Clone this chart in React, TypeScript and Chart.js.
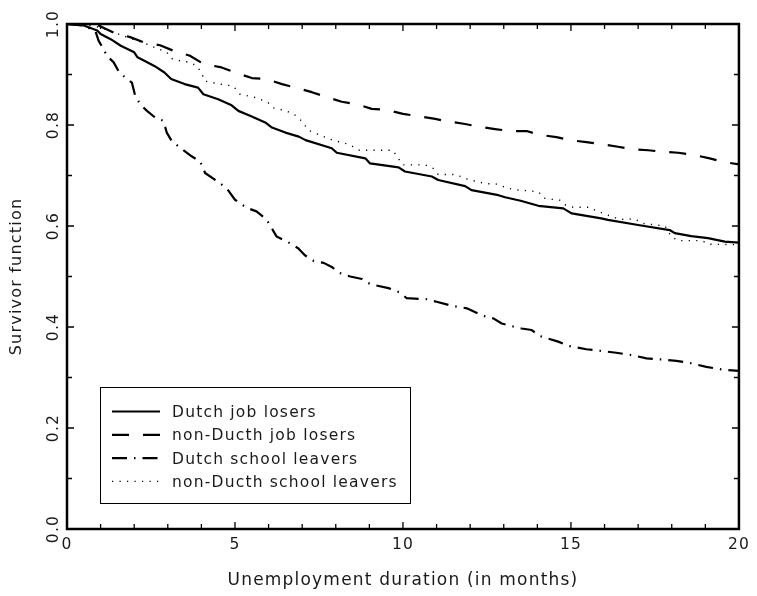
import React, { useEffect, useRef } from 'react';
import { Chart, registerables } from 'chart.js';

Chart.register(...registerables);

const FONT = '"DejaVu Sans", sans-serif';
const INK = '#1a1a1a';

// ---- axes ----
const xRange = [0, 20];
const yRange = [0, 1];
const xTicks = [0, 5, 10, 15, 20];
const yTicks = [0, 0.2, 0.4, 0.6, 0.8, 1.0];
const xMinorTicks = [0, 1, 2, 3, 4, 5, 6, 7, 8, 9, 10, 11, 12, 13, 14, 15, 16, 17, 18, 19, 20];
const yMinorTicks = [0, 0.1, 0.2, 0.3, 0.4, 0.5, 0.6, 0.7, 0.8, 0.9, 1.0];
const xTitle = 'Unemployment duration (in months)';
const yTitle = 'Survivor function';

// ---- series ----
const seriesNames = [
  'Dutch job losers',
  'non-Ducth job losers',
  'Dutch school leavers',
  'non-Ducth school leavers',
];

const dutchJobMonths = [0, 0.5, 0.9, 1.0, 1.3, 1.6, 2.0, 2.1, 2.6, 2.9, 3.1, 3.5, 3.9, 4.06, 4.5, 4.9, 5.1, 5.5, 5.9, 6.1, 6.5, 6.9, 7.1, 7.88, 8.03, 8.88, 9.02, 9.87, 10.06, 10.86, 11.05, 11.85, 12.04, 12.84, 13.04, 13.5, 14.03, 14.77, 15.02, 15.9, 16.1, 17.0, 17.94, 18.09, 18.58, 19.08, 19.58, 20];
const dutchJobSurv = [1.0, 0.997, 0.987, 0.98, 0.97, 0.957, 0.944, 0.934, 0.917, 0.904, 0.891, 0.881, 0.874, 0.861, 0.851, 0.839, 0.828, 0.817, 0.805, 0.795, 0.785, 0.777, 0.770, 0.754, 0.745, 0.734, 0.724, 0.716, 0.708, 0.698, 0.691, 0.679, 0.671, 0.661, 0.657, 0.650, 0.640, 0.635, 0.625, 0.615, 0.612, 0.602, 0.592, 0.586, 0.580, 0.576, 0.569, 0.567];

const foreignJobMonths = [0, 0.5, 0.94, 1.39, 1.88, 2.28, 2.77, 3.17, 3.66, 4.06, 4.6, 5.0, 5.5, 5.94, 6.4, 6.8, 7.29, 7.69, 8.18, 8.63, 9.07, 9.52, 10.0, 10.41, 10.96, 11.35, 11.85, 12.24, 12.74, 13.19, 13.68, 14.03, 14.57, 14.97, 15.46, 15.9, 16.4, 16.8, 17.3, 17.74, 18.19, 18.63, 19.13, 19.52, 20];
const foreignJobSurv = [1.0, 0.999, 0.997, 0.983, 0.974, 0.964, 0.958, 0.947, 0.937, 0.921, 0.914, 0.904, 0.893, 0.891, 0.881, 0.874, 0.865, 0.856, 0.846, 0.841, 0.832, 0.830, 0.822, 0.818, 0.812, 0.807, 0.802, 0.797, 0.792, 0.788, 0.788, 0.781, 0.776, 0.770, 0.766, 0.762, 0.757, 0.752, 0.750, 0.747, 0.745, 0.741, 0.734, 0.727, 0.722];

const dutchSchoolMonths = [0, 0.5, 0.85, 0.94, 1.09, 1.19, 1.39, 1.53, 1.73, 1.93, 2.03, 2.18, 2.38, 2.62, 2.87, 2.97, 3.12, 3.37, 3.71, 3.96, 4.11, 4.46, 4.75, 5.0, 5.35, 5.64, 5.94, 6.24, 6.58, 6.88, 7.08, 7.34, 7.64, 7.88, 8.08, 8.43, 8.78, 9.02, 9.57, 9.92, 10.11, 10.71, 11.0, 11.45, 11.9, 12.39, 12.69, 12.94, 13.28, 13.53, 13.83, 14.08, 14.62, 14.97, 15.46, 15.86, 16.35, 16.75, 17.25, 17.64, 18.14, 18.53, 19.03, 19.47, 20];
const dutchSchoolSurv = [1.0, 0.997, 0.985, 0.967, 0.950, 0.937, 0.924, 0.907, 0.894, 0.884, 0.858, 0.841, 0.828, 0.815, 0.808, 0.785, 0.768, 0.755, 0.738, 0.728, 0.705, 0.689, 0.675, 0.652, 0.636, 0.629, 0.613, 0.579, 0.568, 0.556, 0.542, 0.531, 0.527, 0.519, 0.508, 0.500, 0.495, 0.485, 0.477, 0.468, 0.457, 0.455, 0.450, 0.442, 0.437, 0.422, 0.417, 0.407, 0.401, 0.397, 0.394, 0.382, 0.371, 0.362, 0.356, 0.353, 0.349, 0.345, 0.338, 0.336, 0.333, 0.329, 0.321, 0.316, 0.313];

const foreignSchoolMonths = [0, 0.5, 1.0, 1.78, 2.3, 2.97, 3.1, 3.37, 3.66, 3.86, 4.0, 4.1, 4.55, 4.95, 5.15, 5.64, 5.99, 6.14, 6.53, 6.83, 6.98, 7.2, 7.9, 8.38, 8.7, 9.7, 9.87, 10.0, 10.67, 10.9, 11.05, 11.56, 11.95, 12.45, 12.8, 13.1, 13.33, 14.03, 14.2, 14.67, 14.82, 15.07, 15.56, 15.76, 16.45, 16.9, 17.15, 17.8, 17.99, 18.2, 18.9, 19.1, 20];
const foreignSchoolSurv = [1.0, 0.999, 0.993, 0.974, 0.962, 0.944, 0.932, 0.927, 0.924, 0.917, 0.904, 0.887, 0.881, 0.877, 0.861, 0.854, 0.844, 0.834, 0.828, 0.818, 0.808, 0.789, 0.770, 0.762, 0.750, 0.750, 0.733, 0.721, 0.721, 0.714, 0.702, 0.702, 0.692, 0.684, 0.683, 0.675, 0.672, 0.668, 0.655, 0.651, 0.642, 0.637, 0.637, 0.630, 0.613, 0.614, 0.605, 0.600, 0.579, 0.571, 0.571, 0.564, 0.563];

const seriesMonths = [dutchJobMonths, foreignJobMonths, dutchSchoolMonths, foreignSchoolMonths];
const seriesSurv = [dutchJobSurv, foreignJobSurv, dutchSchoolSurv, foreignSchoolSurv];
const seriesDash = [[], [17, 14], [15, 7, 1.5, 7], [1.2, 6.3]];
const seriesWidth = [2.2, 2.2, 2.2, 1.4];

const SPACING = '1.2px';

const framePlugin = {
  id: 'frameAndLegend',
  beforeUpdate(chart: any) {
    chart.ctx.letterSpacing = SPACING;
  },
  beforeDraw(chart: any) {
    chart.ctx.letterSpacing = SPACING;
  },
  afterDraw(chart: any) {
    const { ctx, chartArea: ca, scales } = chart;
    const xs = scales.x;
    const ys = scales.y;
    ctx.save();
    ctx.strokeStyle = '#000';
    ctx.setLineDash([]);
    // inward ticks on all four sides
    ctx.lineWidth = 1.3;
    ctx.beginPath();
    xMinorTicks.forEach((v) => {
      const px = xs.getPixelForValue(v);
      const len = xTicks.includes(v) ? 7 : 5;
      ctx.moveTo(px, ca.bottom);
      ctx.lineTo(px, ca.bottom - len);
      ctx.moveTo(px, ca.top);
      ctx.lineTo(px, ca.top + len);
    });
    yMinorTicks.forEach((v) => {
      const py = ys.getPixelForValue(v);
      const len = yTicks.some((t) => Math.abs(t - v) < 1e-9) ? 7 : 5;
      ctx.moveTo(ca.left, py);
      ctx.lineTo(ca.left + len, py);
      ctx.moveTo(ca.right, py);
      ctx.lineTo(ca.right - len, py);
    });
    ctx.stroke();
    // frame
    ctx.lineWidth = 2.5;
    ctx.strokeRect(ca.left, ca.top, ca.right - ca.left, ca.bottom - ca.top);

    // legend box
    const bx = ca.left + 33;
    const by = ca.bottom - 142;
    const bw = 310;
    const bh = 116;
    ctx.fillStyle = '#fff';
    ctx.fillRect(bx, by, bw, bh);
    ctx.lineWidth = 1;
    ctx.strokeRect(bx + 0.5, by + 0.5, bw, bh);
    const rowY0 = by + 24.5;
    const rowStep = 23.3;
    chart.data.datasets.forEach((ds: any, i: number) => {
      const ry = rowY0 + i * rowStep;
      ctx.save();
      ctx.strokeStyle = ds.borderColor;
      ctx.lineWidth = ds.borderWidth;
      ctx.setLineDash(ds.borderDash || []);
      ctx.beginPath();
      ctx.moveTo(bx + 12, ry);
      ctx.lineTo(bx + 60, ry);
      ctx.stroke();
      ctx.restore();
      ctx.fillStyle = INK;
      ctx.font = `15.5px ${FONT}`;
      ctx.textAlign = 'left';
      ctx.textBaseline = 'alphabetic';
      ctx.fillText(ds.label, bx + 72, ry + 5.6);
    });
    ctx.restore();
  },
};

export default function App() {
  const ref = useRef<HTMLCanvasElement | null>(null);

  useEffect(() => {
    document.body.style.margin = '0';
    const canvas = ref.current;
    if (!canvas) return;
    const datasets = seriesNames.map((name, i) => ({
      label: name,
      data: seriesMonths[i].map((m, k) => ({ x: m, y: seriesSurv[i][k] })),
      borderColor: '#000',
      borderWidth: seriesWidth[i],
      borderDash: seriesDash[i],
      borderCapStyle: 'butt',
      borderJoinStyle: 'round',
      pointRadius: 0,
      tension: 0,
      fill: false,
    }));
    const chart = new Chart(canvas, {
      type: 'line',
      data: { datasets } as any,
      options: {
        responsive: false,
        animation: false,
        devicePixelRatio: 1,
        layout: { padding: { top: 24, right: 16, left: 0, bottom: 0 } },
        plugins: {
          legend: { display: false },
          tooltip: { enabled: false },
        },
        scales: {
          x: {
            type: 'linear',
            min: xRange[0],
            max: xRange[1],
            grid: { display: false, drawTicks: false },
            border: { display: false },
            afterBuildTicks: (s: any) => {
              s.ticks = xTicks.map((v) => ({ value: v }));
            },
            afterFit: (s: any) => {
              s.height = 67;
            },
            ticks: {
              padding: 7,
              maxRotation: 0,
              minRotation: 0,
              autoSkip: false,
              color: INK,
              font: { family: FONT, size: 15.5 },
              callback: (v: any) => String(v),
            },
            title: {
              display: true,
              text: xTitle,
              color: INK,
              font: { family: FONT, size: 17 },
              padding: { top: 0, bottom: 5 },
            },
          },
          y: {
            type: 'linear',
            min: yRange[0],
            max: yRange[1],
            grid: { display: false, drawTicks: false },
            border: { display: false },
            afterBuildTicks: (s: any) => {
              s.ticks = yTicks.map((v) => ({ value: v }));
            },
            afterFit: (s: any) => {
              s.width = 67;
            },
            ticks: {
              padding: -1,
              minRotation: 90,
              maxRotation: 90,
              crossAlign: 'center',
              autoSkip: false,
              color: INK,
              font: { family: FONT, size: 15.5 },
              callback: (v: any) => Number(v).toFixed(1),
            },
            title: {
              display: true,
              text: yTitle,
              color: INK,
              font: { family: FONT, size: 16 },
              padding: { top: 7, bottom: 0 },
            },
          },
        },
      } as any,
      plugins: [framePlugin as any],
    });
    return () => chart.destroy();
  }, []);

  return (
    <canvas
      ref={ref}
      width={757}
      height={596}
      style={{ display: 'block', width: 757, height: 596 }}
    />
  );
}
